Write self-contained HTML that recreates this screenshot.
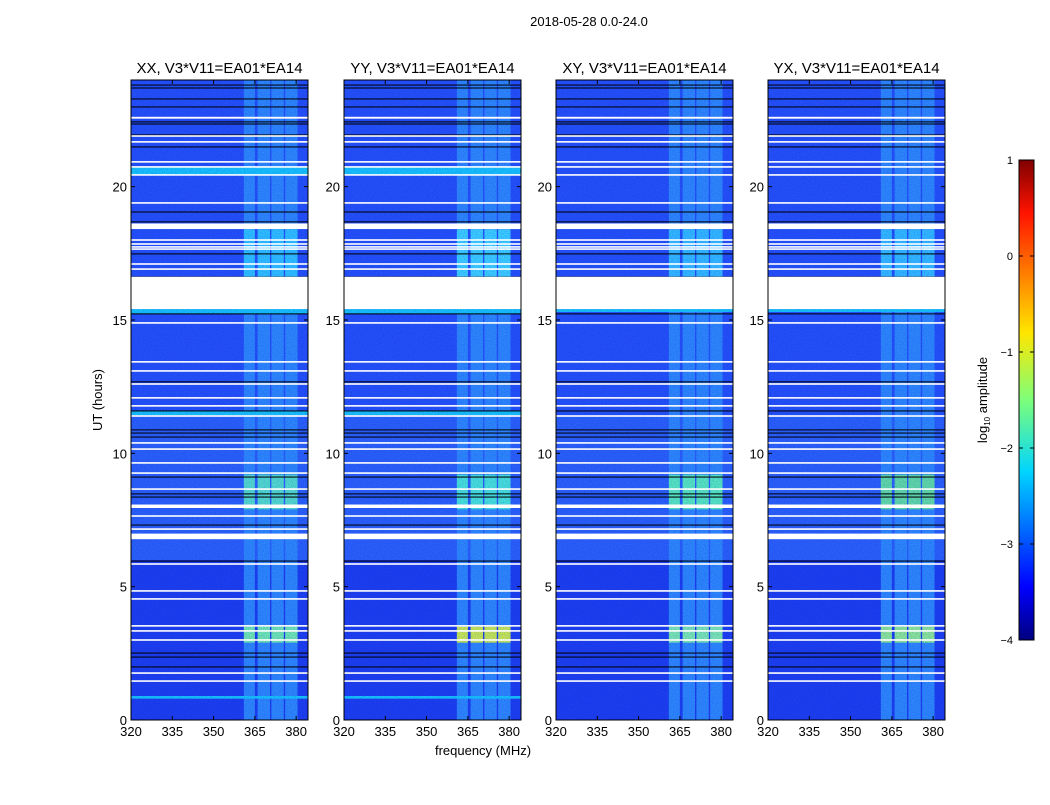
<!DOCTYPE html>
<html><head><meta charset="utf-8">
<style>
html,body{margin:0;padding:0;background:#fff;}
body{width:1050px;height:800px;overflow:hidden;font-family:"Liberation Sans",sans-serif;}
</style></head>
<body>
<svg id="fig" width="1050" height="800" xmlns="http://www.w3.org/2000/svg">
<defs>
<linearGradient id="jet" x1="0" y1="1" x2="0" y2="0">
<stop offset="0" stop-color="#00007f"/><stop offset="0.11" stop-color="#0000ff"/>
<stop offset="0.35" stop-color="#00d4ff"/><stop offset="0.5" stop-color="#7dff7a"/>
<stop offset="0.64" stop-color="#ffe600"/><stop offset="0.89" stop-color="#ff1300"/>
<stop offset="1" stop-color="#7f0000"/></linearGradient>
<filter id="nz" x="0" y="0" width="100%" height="100%">
<feTurbulence type="fractalNoise" baseFrequency="0.9" numOctaves="1" seed="3" result="t"/>
<feColorMatrix in="t" type="matrix" values="0 0 0 0 0  0 0 0 0 0  0 0 0 0 0.9  0 0 0 0.7 -0.2"/>
</filter>
</defs>
<text x="589" y="26" font-size="13" text-anchor="middle">2018-05-28 0.0-24.0</text>
<text x="102" y="400" font-size="13" text-anchor="middle" transform="rotate(-90 102 400)">UT (hours)</text>
<text x="483" y="755" font-size="13" text-anchor="middle">frequency (MHz)</text>
<g id="panels"></g>
<g>
<rect x="1019" y="160" width="15" height="480" fill="url(#jet)" stroke="#000" stroke-width="1"/>
<g id="cbticks"></g>
<text x="987" y="400" font-size="13" text-anchor="middle" transform="rotate(-90 987 400)">log<tspan font-size="8" dy="3">10</tspan><tspan dy="-3"> amplitude</tspan></text>
</g>
</svg>
<script>
const titles=["XX, V3*V11=EA01*EA14","YY, V3*V11=EA01*EA14","XY, V3*V11=EA01*EA14","YX, V3*V11=EA01*EA14"];
const panelLeft=[131,344,556,768];
const xTicks=[320,335,350,365,380];
const yTicks=[0,5,10,15,20];
const cbTicks=[1,0,-1,-2,-3,-4];
// flagged (white) intervals in hours [start,end]
const whiteGaps=[[22.55,22.62],[21.87,21.93],[21.65,21.71],[20.9,20.96],[20.71,20.77],[20.41,20.47],[19.36,19.42],[18.41,18.62],[17.97,18.03],[17.82,17.88],[17.71,17.77],[17.63,17.69],[17.07,17.13],[16.88,16.94],[15.41,16.62],[14.86,14.92],[13.4,13.46],[13.06,13.12],[12.57,12.63],[12.05,12.11],[11.75,11.81],[11.37,11.43],[10.36,10.42],[10.13,10.19],[9.61,9.67],[9.23,9.29],[8.63,8.69],[7.95,8.08],[7.62,7.68],[7.13,7.19],[6.78,6.99],[5.82,5.88],[4.81,4.87],[4.51,4.57],[3.5,3.56],[3.31,3.37],[2.97,3.03],[1.73,1.79],[1.43,1.49]];
// dark (zero) rows in hours
const blackRows=[23.81,23.7,23.29,22.99,22.43,22.35,21.94,21.49,19.05,18.68,17.48,16.61,15.23,12.68,11.59,10.88,10.76,10.61,9.11,8.48,8.36,7.31,5.96,2.51,2.36,1.99];
// RFI frequency bands (MHz)
const rfiBands=[[361,365],[366,370.5],[371,375.5],[376,380.5]];
// bright RFI epochs [start,end]
const rfiEpochs=[[2.9,3.5],[7.9,9.2],[16.6,18.4]];
const epochColors=[["#7dffa0","#e6ff30","#8affa0","#a0ff80"],["#5cf0c0","#4df8d0","#60ffb0","#6cf090"],["#30d0ff","#40e0ff","#35c8ff","#35c8ff"]];
// broadband cyan rows per panel [start,end]
const cyanRows=[[[20.45,20.75],[15.23,15.41],[11.43,11.6],[0.8,0.9]],[[20.45,20.75],[15.23,15.41],[11.43,11.6],[0.8,0.9]],[[15.3,15.41]],[[15.3,15.41]]];

const fMin=320,fMax=384.3,pw=177,plotTop=80,plotBot=720,hMax=24;
const NS="http://www.w3.org/2000/svg";
function yS(h){return plotBot-(h/hMax)*(plotBot-plotTop);}
function mk(tag,attrs,parent){const e=document.createElementNS(NS,tag);for(const k in attrs)e.setAttribute(k,attrs[k]);parent.appendChild(e);return e;}
const root=document.getElementById('panels');
titles.forEach((t,p)=>{
  const x0=panelLeft[p];
  const xS=f=>x0+(f-fMin)/(fMax-fMin)*pw;
  const g=mk('g',{},root);
  
  
  mk('rect',{x:x0,y:plotTop,width:pw,height:plotBot-plotTop,fill:'#2654f4'},g);
  mk('rect',{x:x0,y:yS(6),width:pw,height:yS(0)-yS(6),fill:'#1e42ea'},g);
  mk('rect',{x:x0,y:yS(11.4),width:pw,height:yS(6)-yS(11.4),fill:'#2c64f5'},g);
  rfiBands.forEach(b=>{
    const r=mk('rect',{x:xS(b[0]),y:plotTop,width:xS(b[1])-xS(b[0]),height:plotBot-plotTop,fill:'#2f8cf8'},g);
    
    
  });
  rfiEpochs.forEach((e,i)=>{rfiBands.forEach(b=>{
    mk('rect',{x:xS(b[0]),y:yS(e[1]),width:xS(b[1])-xS(b[0]),height:yS(e[0])-yS(e[1]),fill:epochColors[i][p],opacity:0.85},g);
  });});
  cyanRows[p].forEach(c=>{mk('rect',{x:x0,y:yS(c[1]),width:pw,height:yS(c[0])-yS(c[1]),fill:'#18c8f8'},g);});
  mk('rect',{x:x0,y:plotTop,width:pw,height:plotBot-plotTop,fill:'#000',filter:'url(#nz)',opacity:0.6},g);
  blackRows.forEach(h=>{mk('rect',{x:x0,y:yS(h)-0.6,width:pw,height:1.2,fill:'#000',opacity:0.85},g);});
  whiteGaps.forEach(w=>{
    const r=mk('rect',{x:x0,y:yS(w[1]),width:pw,height:Math.max(1.6,yS(w[0])-yS(w[1])),fill:'#fff'},g);
    
    
  });
  mk('rect',{x:x0,y:plotTop,width:pw,height:plotBot-plotTop,fill:'none',stroke:'#000','stroke-width':1},g);
  const tt=mk('text',{x:x0+pw/2,y:plotTop-7,'font-size':15,'text-anchor':'middle'},g);tt.textContent=t;
  
  
  xTicks.forEach(v=>{const x=xS(v);
    mk('line',{x1:x,x2:x,y1:plotBot,y2:plotBot-4,stroke:'#000'},g);mk('line',{x1:x,x2:x,y1:plotTop,y2:plotTop+4,stroke:'#000'},g);
    const l=mk('text',{x:x,y:plotBot+16,'font-size':13,'text-anchor':'middle'},g);l.textContent=v;
    
    });
  yTicks.forEach(v=>{const y=yS(v);
    mk('line',{x1:x0,x2:x0+4,y1:y,y2:y,stroke:'#000'},g);mk('line',{x1:x0+pw,x2:x0+pw-4,y1:y,y2:y,stroke:'#000'},g);
    const l=mk('text',{x:x0-4,y:y+5,'font-size':13,'text-anchor':'end'},g);l.textContent=v;
    
    });
});
const cb=document.getElementById('cbticks');
cbTicks.forEach(v=>{const y=160+(1-v)/5*480;
  mk('line',{x1:1019,x2:1023,y1:y,y2:y,stroke:'#000'},cb);mk('line',{x1:1034,x2:1030,y1:y,y2:y,stroke:'#000'},cb);
  const l=mk('text',{x:1013,y:y+4,'font-size':11,'text-anchor':'end'},cb);l.textContent=v<0?'\u2212'+(-v):v;
  
  });
</script>
</body></html>
